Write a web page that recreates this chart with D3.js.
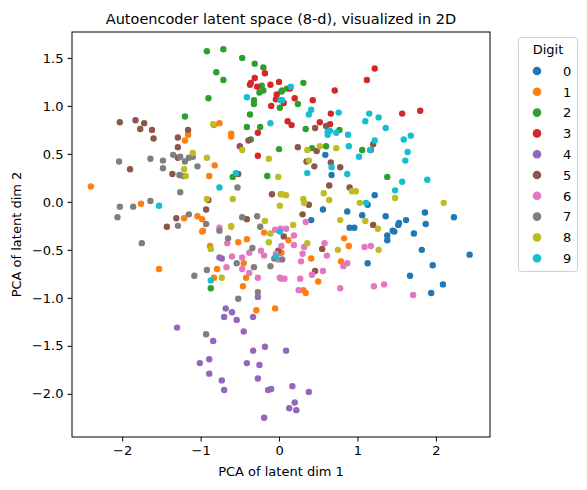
<!DOCTYPE html>
<html><head><meta charset="utf-8">
<script src="https://cdn.jsdelivr.net/npm/d3@7/dist/d3.min.js"></script>
<style>body{margin:0;background:#fff}text{font-family:"DejaVu Sans",sans-serif}</style>
</head><body><svg id="c" width="587" height="490"></svg>
<script>
const digits=["0","1","2","3","4","5","6","7","8","9"];
const colors=["#1f77b4","#ff7f0e","#2ca02c","#d62728","#9467bd","#8c564b","#e377c2","#7f7f7f","#bcbd22","#17becf"];
const xTicks=[-2,-1,0,1,2];
const yTicks=[-2.0,-1.5,-1.0,-0.5,0.0,0.5,1.0,1.5];
const digit0=[[0.59,0.49],[0.67,0.28],[1.22,0.07],[1.13,-0.03],[0.56,-0.08],[0.87,-0.10],[1.06,-0.14],[1.36,-0.15],[1.86,-0.11],[2.23,-0.16],[1.53,-0.22],[1.62,-0.19],[1.87,-0.23],[0.41,-0.19],[0.90,-0.27],[0.96,-0.27],[1.45,-0.30],[1.72,-0.33],[1.47,-0.31],[1.38,-0.35],[1.38,-0.40],[1.82,-0.50],[2.43,-0.55],[1.96,-0.66],[1.13,-0.64],[1.67,-0.77],[2.09,-0.86],[1.94,-0.95],[1.52,-0.24]];
const digit1=[[-2.4,0.16],[-0.76,0.82],[-0.83,0.80],[-0.61,0.71],[-0.61,0.68],[-1.16,0.70],[-1.20,0.64],[-0.82,0.38],[-0.89,0.27],[-1.76,-0.02],[-1.04,-0.15],[-0.98,-0.18],[-1.21,-0.17],[-0.97,-0.30],[-0.98,-0.31],[-0.88,-0.46],[-0.52,-0.42],[-0.41,-0.39],[-0.19,-0.32],[-1.53,-0.70],[-0.79,-0.70],[-0.83,-0.79],[-0.45,-0.64],[-0.42,-0.79],[-0.46,-0.88],[-0.29,-1.13],[-0.05,-1.11],[0.01,-0.53],[0.12,-0.40],[0.03,-0.53],[0.41,-0.59],[0.83,-0.38],[0.89,-0.46],[0.79,-0.62],[0.50,-0.83],[0.31,-0.92],[0.34,-0.95]];
const digit2=[[-0.92,1.57],[-0.71,1.59],[-0.47,1.50],[-0.31,1.44],[-0.20,1.40],[-0.80,1.35],[-0.71,1.27],[-0.22,1.21],[-0.20,1.16],[-0.25,1.14],[-0.90,1.08],[-0.32,1.06],[-0.32,1.02],[0.01,0.98],[-0.37,0.91],[-1.20,0.89],[-0.41,0.78],[-0.24,0.78],[-0.36,0.65],[0.0,0.55],[-0.59,0.26],[-0.15,0.27],[0.03,1.15],[0.31,1.24],[0.10,1.18],[0.04,1.16],[0.24,1.02],[0.34,0.76],[0.77,0.75],[0.42,0.56],[0.60,0.58],[1.06,0.54],[1.38,0.26],[-0.87,-0.90]];
const digit3=[[-0.31,1.29],[-0.18,1.34],[-0.36,1.24],[-0.37,1.22],[-0.28,1.20],[-0.11,1.22],[0.0,1.25],[-0.03,1.12],[-0.04,1.07],[-0.10,1.00],[-0.27,0.72],[-0.27,0.48],[1.22,1.39],[1.12,1.27],[0.71,1.16],[0.14,1.18],[0.20,1.08],[0.06,1.03],[0.43,1.06],[0.66,0.92],[0.11,0.84],[0.16,0.80],[0.52,0.83],[0.65,0.81],[1.57,0.92],[1.80,0.95],[1.17,0.54]];
const digit4=[[-0.76,-0.58],[-0.73,-0.59],[-0.68,-1.11],[-0.60,-1.15],[-0.70,-1.20],[-0.54,-1.23],[-0.33,-1.20],[-0.27,-0.99],[-1.30,-1.31],[-0.45,-1.35],[-0.84,-1.45],[-0.33,-1.55],[-0.18,-1.51],[-1.01,-1.68],[-0.89,-1.64],[-0.41,-1.68],[-0.25,-1.70],[-0.89,-1.79],[-0.27,-1.84],[-0.73,-1.86],[-0.70,-1.96],[-0.14,-1.96],[-0.10,-1.95],[-0.19,-2.25],[0.09,-1.55],[0.17,-1.92],[0.38,-1.98],[0.20,-2.09],[0.13,-2.15],[0.22,-2.17]];
const digit5=[[-2.03,0.83],[-1.83,0.85],[-1.72,0.82],[-1.77,0.76],[-1.62,0.75],[-1.60,0.66],[-1.16,0.75],[-1.29,0.67],[-1.29,0.57],[-1.29,0.46],[-1.90,0.34],[-1.36,0.29],[-0.50,0.58],[-0.39,0.64],[-0.52,0.29],[-0.09,0.08],[-0.90,0.02],[-0.93,-0.08],[-1.31,-0.17],[-0.41,-0.18],[-1.43,-0.26],[0.46,0.77],[0.60,0.79],[0.24,0.57],[0.48,0.53],[0.35,0.42],[0.45,0.37],[0.66,0.41],[0.78,0.36],[1.20,0.60],[0.64,0.17],[0.90,0.15],[0.38,-0.03],[0.30,-0.13],[1.20,-0.24],[-0.01,-0.51],[0.06,-0.36],[0.55,-0.49],[0.46,-0.72]];
const digit6=[[-0.76,-0.27],[-0.66,-0.43],[-0.60,-0.57],[-0.47,-0.58],[-0.67,-0.68],[-0.47,-0.70],[-0.38,-0.74],[-0.38,-0.53],[-0.23,-0.51],[-0.19,-0.56],[-0.27,-0.79],[-0.05,-0.29],[-0.04,-0.54],[-0.01,-0.60],[0.01,-0.79],[0.09,-0.28],[0.19,-0.35],[0.19,-0.45],[0.03,-0.46],[0.32,-0.47],[0.58,-0.43],[0.30,-0.54],[0.28,-0.62],[0.61,-0.56],[0.87,-0.64],[0.82,-0.67],[1.09,-0.47],[1.17,-0.46],[0.56,-0.72],[0.42,-0.76],[0.27,-0.80],[0.03,-0.80],[0.07,-0.80],[0.25,-0.92],[0.78,-0.90],[1.21,-0.88],[1.34,-0.86],[1.71,-0.97],[0.34,-0.21],[0.02,-0.28]];
const digit7=[[-2.04,0.42],[-1.64,0.45],[-1.48,0.43],[-1.48,0.35],[-1.35,0.49],[-1.26,0.47],[-1.20,0.42],[-1.15,0.46],[-1.10,0.47],[-1.04,0.37],[-1.27,0.28],[-1.22,0.27],[-1.26,0.10],[-0.53,0.15],[-2.03,-0.05],[-1.86,-0.05],[-1.64,0.01],[-2.06,-0.16],[-1.15,-0.13],[-1.29,-0.25],[-0.93,-0.23],[-0.47,-0.16],[-0.28,-0.15],[-0.24,-0.26],[-1.75,-0.43],[-0.76,-0.30],[-0.65,-0.38],[-0.34,-0.48],[-0.54,-0.64],[-0.32,-0.68],[-0.11,-0.67],[-0.06,-0.59],[-0.92,-0.71],[-1.08,-0.77],[-0.52,-1.01],[-0.27,-0.94],[-0.93,-1.38],[0.04,-0.60]];
const digit8=[[-0.84,0.81],[-0.47,0.54],[-1.10,0.51],[-0.92,0.46],[-0.13,0.45],[-1.21,0.34],[-1.19,0.27],[-0.01,0.26],[-0.92,0.03],[-0.59,0.03],[0.02,0.08],[0.01,-0.04],[-0.18,-0.20],[-0.61,-0.25],[0.36,0.54],[0.38,0.43],[0.52,0.58],[0.73,0.56],[0.04,0.08],[0.09,0.07],[0.57,0.09],[0.31,0.03],[0.32,-0.01],[0.64,0.02],[0.93,0.11],[0.98,0.11],[1.03,-0.01],[1.48,0.04],[2.10,-0.01],[0.78,-0.19],[1.10,-0.20],[0.18,-0.24],[1.26,-0.28],[-0.87,-0.49],[-0.73,-0.79],[-0.61,-0.26],[-0.11,-0.33],[-0.13,-0.42],[0.36,-0.43],[0.75,-0.50],[1.27,-0.50]];
const digit9=[[-0.41,1.09],[-0.11,0.82],[-0.55,0.30],[-0.76,0.15],[-1.53,-0.04],[0.02,1.06],[0.15,1.20],[0.04,1.06],[0.41,0.96],[0.38,0.91],[0.76,0.93],[1.15,0.92],[1.10,0.84],[1.27,0.88],[1.36,0.77],[0.62,0.73],[0.65,0.74],[0.62,0.70],[0.73,0.72],[0.88,0.70],[1.22,0.64],[1.59,0.65],[1.68,0.69],[0.89,0.58],[1.64,0.52],[1.61,0.43],[1.02,0.47],[1.16,0.54],[0.67,0.36],[0.36,0.30],[0.87,0.29],[1.57,0.21],[1.89,0.23],[1.48,0.12],[1.11,-0.01],[-0.87,-0.82],[-0.04,-0.57],[0.01,-0.31]];
const series=[digit0,digit1,digit2,digit3,digit4,digit5,digit6,digit7,digit8,digit9];

const svg=d3.select("#c");
const L=72,R=490,T=32,B=437;
const x=d3.scaleLinear().domain([-2.64,2.69]).range([L,R]);
const y=d3.scaleLinear().domain([-2.45,1.77]).range([B,T]);
series.forEach((s,i)=>{
  svg.append("g").selectAll("circle").data(s).join("circle")
    .attr("cx",d=>x(d[0])).attr("cy",d=>y(d[1])).attr("r",3.2).attr("fill",colors[i]);
});
const minus=s=>s.replace("-","\u2212");
const gx=svg.append("g").attr("transform",`translate(0,${B})`).call(d3.axisBottom(x).tickValues(xTicks).tickFormat(d=>minus(d3.format("d")(d))).tickSizeOuter(0).tickSize(4.5).tickPadding(4));
const gy=svg.append("g").attr("transform",`translate(${L},0)`).call(d3.axisLeft(y).tickValues(yTicks).tickFormat(d=>minus(d3.format(".1f")(d))).tickSizeOuter(0).tickSize(4.5).tickPadding(4));
[gx,gy].forEach(g=>{g.selectAll("text").attr("font-size",13).attr("fill","#000").attr("font-family","DejaVu Sans");g.selectAll("line").attr("stroke","#000").attr("stroke-width",1);g.select(".domain").remove();});
svg.append("rect").attr("x",L).attr("y",T).attr("width",R-L).attr("height",B-T).attr("fill","none").attr("stroke","#000").attr("stroke-width",1);
svg.append("text").attr("x",(L+R)/2).attr("y",24).attr("text-anchor","middle").attr("font-size",14.5).text("Autoencoder latent space (8-d), visualized in 2D");
svg.append("text").attr("x",(L+R)/2).attr("y",476).attr("text-anchor","middle").attr("font-size",13).text("PCA of latent dim 1");
svg.append("text").attr("transform",`translate(21,${(T+B)/2}) rotate(-90)`).attr("text-anchor","middle").attr("font-size",13).text("PCA of latent dim 2");
const lg=svg.append("g");
lg.append("rect").attr("x",518.5).attr("y",37.5).attr("width",59).attr("height",234).attr("rx",3).attr("fill","#fff").attr("stroke","#d0d0d0");
lg.append("text").attr("x",548).attr("y",54).attr("text-anchor","middle").attr("font-size",13).text("Digit");
digits.forEach((d,i)=>{
  const yy=71+i*20.8;
  lg.append("circle").attr("cx",537).attr("cy",yy).attr("r",4.3).attr("fill",colors[i]);
  lg.append("text").attr("x",563).attr("y",yy+4.7).attr("font-size",13).text(d);
});
</script></body></html>
